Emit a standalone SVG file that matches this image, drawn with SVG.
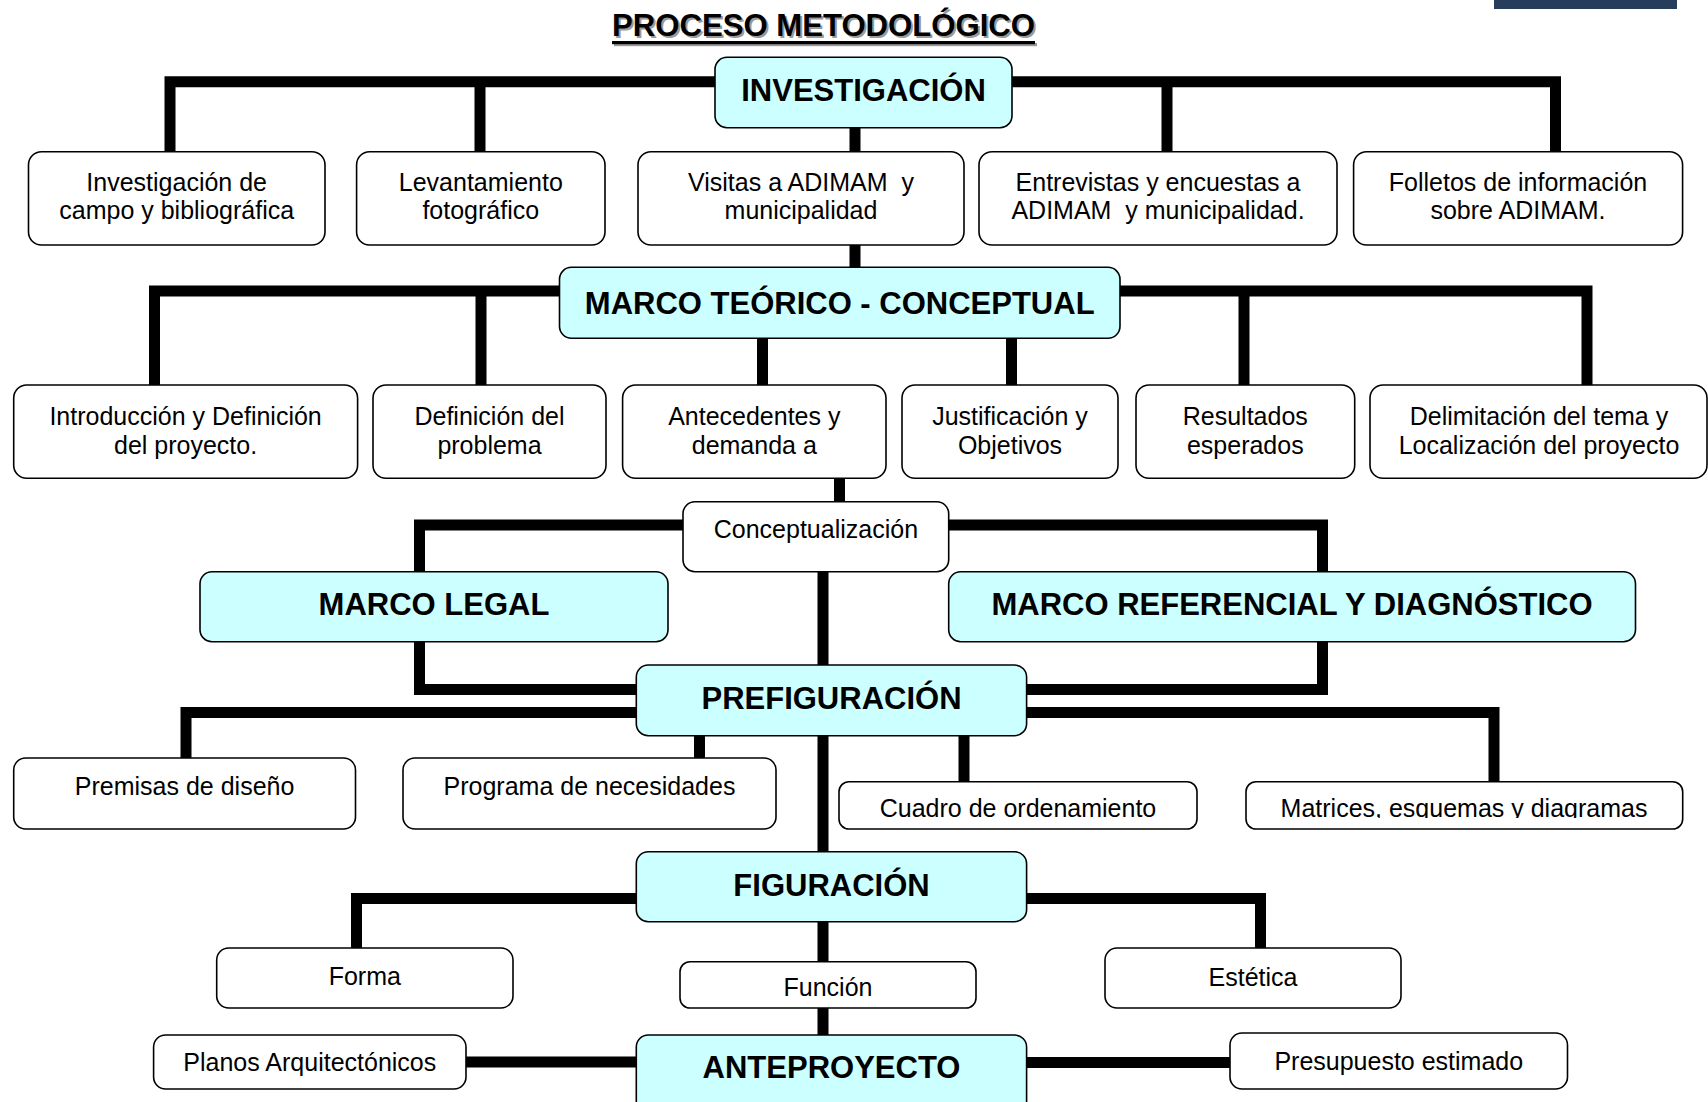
<svg xmlns="http://www.w3.org/2000/svg" width="1708" height="1102" viewBox="0 0 1708 1102">
<style>
.box{fill:#ffffff;stroke:#000;stroke-width:1.6}
.hbox{fill:#ccffff;stroke:#000;stroke-width:1.6}
.t{font-family:"Liberation Sans",Arial,sans-serif;font-size:25px;fill:#000;text-anchor:middle;white-space:pre}
.h{font-family:"Liberation Sans",Arial,sans-serif;font-size:31px;font-weight:bold;fill:#000;text-anchor:middle}
.ttl{font-family:"Liberation Sans",Arial,sans-serif;font-size:32px;font-weight:bold;text-anchor:middle}
.c{fill:none;stroke:#000;stroke-width:11;stroke-linejoin:miter;stroke-linecap:butt}
</style>
<defs>
<clipPath id="clipMat"><rect x="1246" y="782" width="437" height="36"/></clipPath>
</defs>
<rect x="1494" y="0" width="183" height="9" fill="#263d5c"/>
<g id="title">
<rect x="614" y="43" width="423" height="3.2" fill="#9a9a9a"/>
<text class="ttl" x="825.5" y="38" textLength="423" lengthAdjust="spacingAndGlyphs" fill="#9a9a9a">PROCESO METODOLÓGICO</text>
<rect x="612" y="41" width="423" height="3.2" fill="#000"/>
<text class="ttl" x="823.5" y="36" textLength="423" lengthAdjust="spacingAndGlyphs" fill="#000">PROCESO METODOLÓGICO</text>
</g>
<g id="connectors">
<path class="c" d="M170,152 V81.7 H1555.5 V152"/>
<path class="c" d="M480,81.7 V152 M1167,81.7 V152 M855,127 V268"/>
<path class="c" d="M154.5,386 V291 H1587 V386"/>
<path class="c" d="M481,291 V386 M1244,291 V386 M762.5,338 V386 M1011.5,338 V386"/>
<path class="c" d="M839.5,478 V503"/>
<path class="c" d="M684,525 H419.5 V573"/>
<path class="c" d="M948,525 H1322.5 V573"/>
<path class="c" d="M419.5,641 V689.5 H637"/>
<path class="c" d="M1322.5,641 V689.5 H1026"/>
<path class="c" d="M823,571 V1036"/>
<path class="c" d="M637,712.5 H186 V759"/>
<path class="c" d="M1026,712.5 H1494 V782"/>
<path class="c" d="M699.5,735 V759 M964,735 V782"/>
<path class="c" d="M637,898.5 H356.5 V949"/>
<path class="c" d="M1026,898.5 H1260.5 V949"/>
<path class="c" d="M466,1062 H637 M1026,1062.5 H1230"/>
</g>
<g id="investigacion"><rect class="hbox" x="715" y="57.3" width="297" height="70.4" rx="12"/><text class="h" x="863.5" y="101">INVESTIGACIÓN</text></g>
<g id="inv-campo"><rect class="box" x="28.5" y="151.7" width="296.5" height="93.3" rx="13"/><text class="t" x="176.7" y="190.7">Investigación de</text><text class="t" x="176.7" y="219">campo y bibliográfica</text></g>
<g id="levantamiento"><rect class="box" x="356.6" y="151.7" width="248.4" height="93.3" rx="13"/><text class="t" x="480.8" y="190.7">Levantamiento</text><text class="t" x="480.8" y="219">fotográfico</text></g>
<g id="visitas"><rect class="box" x="638" y="151.7" width="326" height="93.3" rx="13"/><text class="t" x="801" y="190.7">Visitas a ADIMAM  y</text><text class="t" x="801" y="219">municipalidad</text></g>
<g id="entrevistas"><rect class="box" x="979" y="151.7" width="358" height="93.3" rx="13"/><text class="t" x="1158" y="190.7">Entrevistas y encuestas a</text><text class="t" x="1158" y="219">ADIMAM  y municipalidad.</text></g>
<g id="folletos"><rect class="box" x="1353.6" y="151.7" width="329" height="93.3" rx="13"/><text class="t" x="1518" y="190.7">Folletos de información</text><text class="t" x="1518" y="219">sobre ADIMAM.</text></g>
<g id="marco-teorico"><rect class="hbox" x="559.5" y="267.3" width="560.5" height="71" rx="12"/><text class="h" x="839.7" y="314">MARCO TEÓRICO - CONCEPTUAL</text></g>
<g id="introduccion"><rect class="box" x="13.7" y="385" width="343.9" height="93.3" rx="13"/><text class="t" x="185.6" y="425">Introducción y Definición</text><text class="t" x="185.6" y="454">del proyecto.</text></g>
<g id="definicion"><rect class="box" x="373" y="385" width="233" height="93.3" rx="13"/><text class="t" x="489.5" y="425">Definición del</text><text class="t" x="489.5" y="454">problema</text></g>
<g id="antecedentes"><rect class="box" x="622.6" y="385" width="263.4" height="93.3" rx="13"/><text class="t" x="754.3" y="425">Antecedentes y</text><text class="t" x="754.3" y="454">demanda a</text></g>
<g id="justificacion"><rect class="box" x="902" y="385" width="216" height="93.3" rx="13"/><text class="t" x="1010" y="425">Justificación y</text><text class="t" x="1010" y="454">Objetivos</text></g>
<g id="resultados"><rect class="box" x="1136" y="385" width="218.7" height="93.3" rx="13"/><text class="t" x="1245.3" y="425">Resultados</text><text class="t" x="1245.3" y="454">esperados</text></g>
<g id="delimitacion"><rect class="box" x="1370" y="385" width="337" height="93.3" rx="13"/><text class="t" x="1539" y="425">Delimitación del tema y</text><text class="t" x="1539" y="454">Localización del proyecto</text></g>
<g id="conceptualizacion"><rect class="box" x="683" y="501.7" width="265.7" height="70" rx="12"/><text class="t" x="815.9" y="538">Conceptualización</text></g>
<g id="marco-legal"><rect class="hbox" x="200" y="571.7" width="468" height="70" rx="12"/><text class="h" x="434" y="615">MARCO LEGAL</text></g>
<g id="marco-referencial"><rect class="hbox" x="948.7" y="571.7" width="686.8" height="70" rx="12"/><text class="h" x="1292" y="615">MARCO REFERENCIAL Y DIAGNÓSTICO</text></g>
<g id="prefiguracion"><rect class="hbox" x="636.3" y="665" width="390.3" height="70.7" rx="12"/><text class="h" x="831.5" y="709">PREFIGURACIÓN</text></g>
<g id="premisas"><rect class="box" x="13.7" y="758" width="341.8" height="71" rx="12"/><text class="t" x="184.6" y="795">Premisas de diseño</text></g>
<g id="programa"><rect class="box" x="403" y="758" width="373" height="71" rx="12"/><text class="t" x="589.5" y="795">Programa de necesidades</text></g>
<g id="cuadro"><rect class="box" x="839" y="781.7" width="358" height="47.3" rx="10"/><text class="t" x="1018" y="817">Cuadro de ordenamiento</text></g>
<g id="matrices"><rect class="box" x="1246" y="781.7" width="436.7" height="47.3" rx="10"/><text class="t" x="1464" y="817" clip-path="url(#clipMat)">Matrices, esquemas y diagramas</text></g>
<g id="figuracion"><rect class="hbox" x="636.3" y="851.7" width="390.3" height="70" rx="12"/><text class="h" x="831.5" y="896">FIGURACIÓN</text></g>
<g id="forma"><rect class="box" x="216.7" y="948" width="296.3" height="60" rx="12"/><text class="t" x="364.8" y="985">Forma</text></g>
<g id="funcion"><rect class="box" x="680" y="961.7" width="296" height="46.3" rx="10"/><text class="t" x="828" y="996">Función</text></g>
<g id="estetica"><rect class="box" x="1105" y="948" width="296" height="60" rx="12"/><text class="t" x="1253" y="986">Estética</text></g>
<g id="anteproyecto"><rect class="hbox" x="636.3" y="1035" width="390.3" height="80" rx="12"/><text class="h" x="831.5" y="1078">ANTEPROYECTO</text></g>
<g id="planos"><rect class="box" x="153.6" y="1035" width="312.4" height="54" rx="12"/><text class="t" x="309.8" y="1071">Planos Arquitectónicos</text></g>
<g id="presupuesto"><rect class="box" x="1230" y="1033" width="337.5" height="56" rx="12"/><text class="t" x="1398.8" y="1070">Presupuesto estimado</text></g>
</svg>
